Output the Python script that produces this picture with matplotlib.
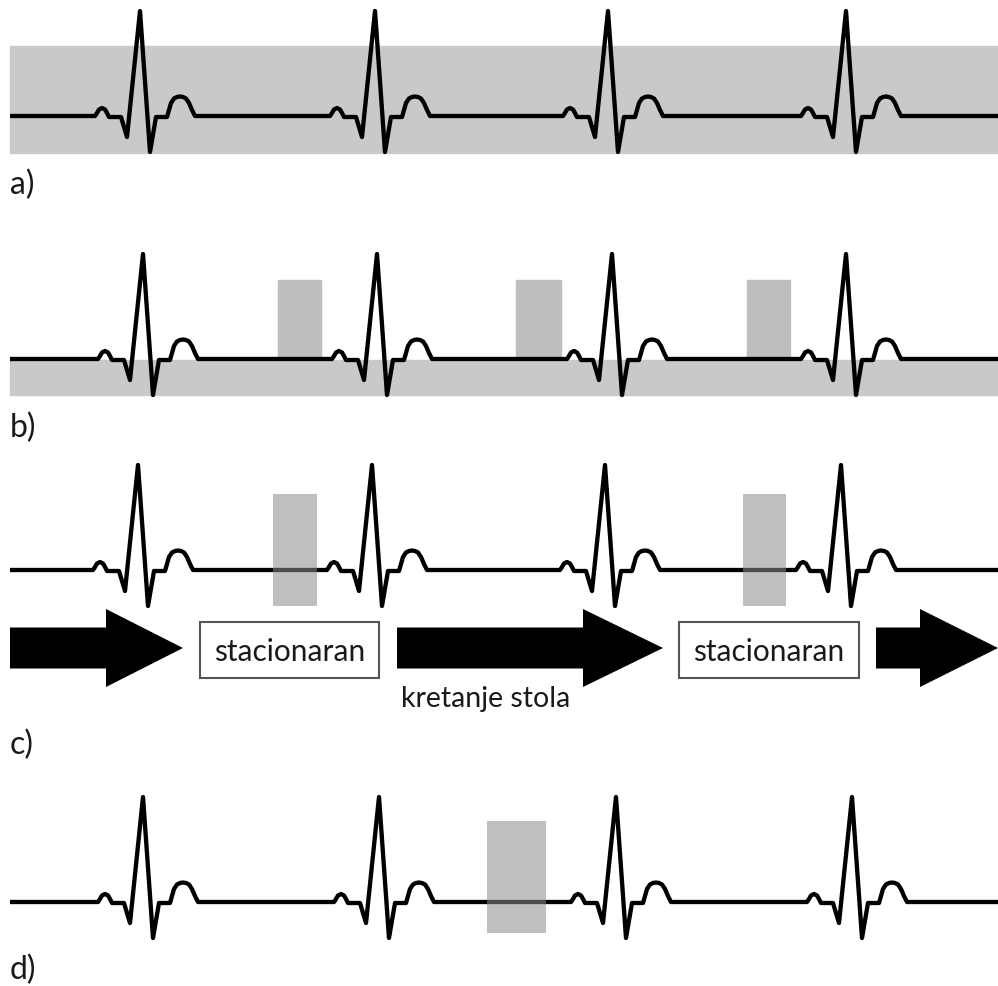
import numpy as np
import matplotlib
matplotlib.use("Agg")
import matplotlib.pyplot as plt
from matplotlib.patches import Rectangle

# ECG template: offset from R peak (px) and offset from baseline (px, + = down)
beat_dx = [-45, -43, -41, -38, -35, -33, -31, -19, -13, 0, 10, 16, 27, 29, 31, 34, 37, 40, 43, 46, 49, 52, 55]
beat_dy = [0, -3, -6.5, -8, -6.5, -3, 1, 1, 21, -105, 36, 1, 1, -6, -13, -17.5, -19, -19.5, -19, -17.5, -13, -6, 0]

# R-peak positions per panel
peaks_a = [140, 375, 608, 846]
peaks_b = [143, 377, 612, 846]
peaks_c = [138, 372, 605, 841]
peaks_d = [143, 379, 616, 852]
baselines = [117, 360, 571, 903]

# gray acquisition windows (x0, x1, y0, y1)
band_a = (10, 998, 47, 154)
band_b = (10, 998, 361, 396)
windows_b = [(278, 321), (516, 561), (747, 790)]
windows_c = [(273, 317), (743, 786)]
window_d = (487, 546)

# table motion (arrows) and stationary boxes in panel c
move_spans = [(10, 106, 183), (397, 583, 663), (876, 920, 998)]
still_spans = [(200, 379), (679, 859)]

labels = ["a)", "b)", "c)", "d)"]
label_y = [185, 428, 745, 970]

plt.rcParams['font.family'] = ['Lato', 'DejaVu Sans']

fig = plt.figure(figsize=(9.98, 9.87), dpi=100)
ax = fig.add_axes([0, 0, 1, 1])
ax.set_xlim(0, 998)
ax.set_ylim(987, 0)
ax.axis('off')


def ecg(peaks, base):
    xs, ys = [10], [base]
    for p in peaks:
        xs += [p + d for d in beat_dx]
        ys += [base + d for d in beat_dy]
    xs.append(998)
    ys.append(base)
    ax.plot(xs, ys, color='black', lw=3.1, solid_joinstyle='round', solid_capstyle='butt', zorder=3)


# a) continuous acquisition
x0, x1, y0, y1 = band_a
ax.add_patch(Rectangle((x0, y0), x1 - x0, y1 - y0, color='#c9c9c9', zorder=1))
ecg(peaks_a, baselines[0])

# b) gated windows
x0, x1, y0, y1 = band_b
ax.add_patch(Rectangle((x0, y0), x1 - x0, y1 - y0, color='#c9c9c9', zorder=1))
for w0, w1 in windows_b:
    ax.add_patch(Rectangle((w0, 281), w1 - w0, baselines[1] - 281, color='#bebebe', zorder=1))
ecg(peaks_b, baselines[1])

# c) step and shoot
ecg(peaks_c, baselines[2])
for w0, w1 in windows_c:
    ax.add_patch(Rectangle((w0, 495), w1 - w0, 112, color='#8c8c8c', alpha=0.55, lw=0, zorder=4))
for s, hb, tip in move_spans:
    ax.arrow(s, 649, tip - s, 0, width=41, head_width=78, head_length=tip - hb,
             length_includes_head=True, fc='black', ec='none', zorder=3)
for b0, b1 in still_spans:
    ax.add_patch(Rectangle((b0, 623), b1 - b0, 56, fc='white', ec='#555555', lw=1.5, zorder=3))
    ax.text((b0 + b1) / 2, 652, "stacionaran", ha='center', va='center', fontsize=21.5, color='#1a1a1a', zorder=5)
ax.text(486, 699, "kretanje stola", ha='center', va='center', fontsize=20.5, color='#1a1a1a')

# d) single window
ecg(peaks_d, baselines[3])
ax.add_patch(Rectangle((window_d[0], 822), window_d[1] - window_d[0], 112, color='#8c8c8c', alpha=0.55, lw=0, zorder=4))

for lab, y in zip(labels, label_y):
    ax.text(10, y, lab, ha='left', va='center', fontsize=23, color='#1a1a1a')

fig.savefig("out.png", dpi=100)
